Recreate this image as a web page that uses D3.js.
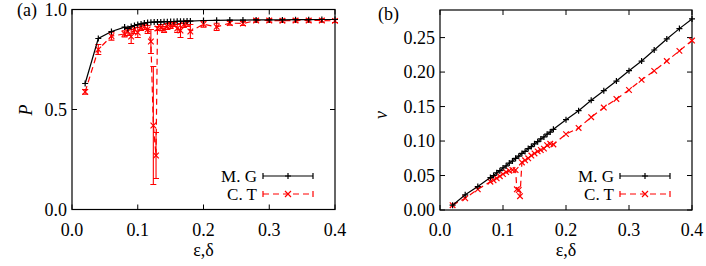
<!DOCTYPE html>
<html><head><meta charset="utf-8">
<script src="https://cdn.jsdelivr.net/npm/d3@7"></script>
<style>
body{margin:0;background:#fff;}
</style></head>
<body><svg id="c" width="706" height="266" font-family="'Liberation Serif', 'Times New Roman', Times, serif" font-size="18"></svg>
<script>
// ---- data ----
const blackX = [0.02,0.04,0.06,0.08,0.085,0.09,0.095,0.1,0.105,0.11,0.115,0.12,0.125,0.13,0.135,0.14,0.145,0.15,0.155,0.16,0.165,0.17,0.175,0.18,0.2,0.22,0.24,0.26,0.28,0.3,0.32,0.34,0.36,0.38,0.4];
const blackP = [0.63,0.855,0.89,0.912,0.905,0.915,0.92,0.925,0.928,0.932,0.935,0.936,0.937,0.938,0.938,0.939,0.939,0.94,0.94,0.941,0.941,0.941,0.942,0.942,0.945,0.946,0.947,0.947,0.948,0.948,0.948,0.949,0.949,0.95,0.95];
const blackV = [0.007,0.022,0.034,0.047,0.050,0.054,0.057,0.061,0.064,0.068,0.071,0.075,0.078,0.082,0.085,0.089,0.092,0.096,0.099,0.103,0.106,0.110,0.113,0.117,0.131,0.144,0.159,0.173,0.187,0.202,0.216,0.232,0.248,0.263,0.277];

const redPX = [0.02,0.04,0.06,0.08,0.085,0.09,0.095,0.1,0.105,0.11,0.115,0.12,0.1237,0.1278,0.13,0.135,0.14,0.145,0.15,0.155,0.16,0.165,0.17,0.175,0.18,0.2,0.22,0.24,0.26,0.28,0.3,0.32,0.34,0.36,0.38,0.4];
const redP = [0.588,0.800,0.867,0.878,0.89,0.865,0.9,0.885,0.91,0.915,0.9,0.84,0.42,0.27,0.905,0.91,0.9,0.915,0.92,0.925,0.905,0.895,0.925,0.93,0.89,0.927,0.913,0.932,0.93,0.945,0.945,0.944,0.945,0.945,0.945,0.943];
const redPErr = [0.012,0.025,0.02,0.015,0.02,0.035,0.02,0.025,0.015,0.015,0.02,0.06,0.295,0.115,0.01,0.015,0.015,0.015,0.015,0.01,0.02,0.035,0.015,0.015,0.035,0.015,0.018,0.01,0.01,0.008,0.008,0.008,0.008,0.008,0.008,0.008];

const redVX = [0.02,0.04,0.06,0.08,0.085,0.09,0.095,0.1,0.105,0.11,0.115,0.12,0.122,0.125,0.127,0.13,0.135,0.14,0.145,0.15,0.155,0.16,0.165,0.17,0.175,0.18,0.2,0.22,0.24,0.26,0.28,0.3,0.32,0.34,0.36,0.38,0.4];
const redV = [0.007,0.017,0.030,0.041,0.043,0.046,0.049,0.052,0.055,0.057,0.058,0.058,0.030,0.029,0.020,0.069,0.072,0.075,0.079,0.082,0.085,0.087,0.089,0.094,0.096,0.095,0.110,0.119,0.1345,0.1485,0.161,0.174,0.1887,0.2017,0.216,0.2307,0.2457];

const xTicks = [0,0.1,0.2,0.3,0.4];
const yTicksA = [0,0.5,1.0];
const yTicksB = [0,0.05,0.1,0.15,0.2,0.25];
const seriesNames = ["M. G","C. T"];

// ---- drawing ----
const svg = d3.select("#c");
const RED = "#ff0000";

function plusPath(x,y,s){return `M${x-s},${y}H${x+s}M${x},${y-s}V${y+s}`;}
function crossPath(x,y,s){return `M${x-s},${y-s}L${x+s},${y+s}M${x-s},${y+s}L${x+s},${y-s}`;}

function panel(o){
  const x = d3.scaleLinear().domain([0,0.4]).range([o.l,o.r]);
  const y = d3.scaleLinear().domain(o.yd).range([o.b,o.t]);
  const g = svg.append("g");
  const tl = 5;
  o.xt.forEach(v=>{
    g.append("line").attr("x1",x(v)).attr("x2",x(v)).attr("y1",o.b).attr("y2",o.b-tl).attr("stroke","#000");
    g.append("line").attr("x1",x(v)).attr("x2",x(v)).attr("y1",o.t).attr("y2",o.t+tl).attr("stroke","#000");
    g.append("text").attr("x",x(v)).attr("y",o.b+26).attr("text-anchor","middle").text(d3.format(".1f")(v));
  });
  o.yt.forEach(v=>{
    g.append("line").attr("x1",o.l).attr("x2",o.l+tl).attr("y1",y(v)).attr("y2",y(v)).attr("stroke","#000");
    g.append("line").attr("x1",o.r).attr("x2",o.r-tl).attr("y1",y(v)).attr("y2",y(v)).attr("stroke","#000");
    g.append("text").attr("x",o.l-5).attr("y",y(v)+6).attr("text-anchor","end").text(o.yf(v));
  });
  g.append("rect").attr("x",o.l).attr("y",o.t).attr("width",o.r-o.l).attr("height",o.b-o.t)
    .attr("fill","none").attr("stroke","#000").attr("stroke-width",1.2);

  const line = d3.line().x(d=>x(d[0])).y(d=>y(d[1]));
  const rd = o.rx.map((v,i)=>[v,o.ry[i],o.re?o.re[i]:0]);
  g.append("path").attr("d",line(rd)).attr("fill","none").attr("stroke",RED).attr("stroke-width",1.2).attr("stroke-dasharray","6,4");
  rd.forEach(d=>{
    if(d[2]>0){
      const cx=x(d[0]), y1=y(d[1]-d[2]), y2=y(d[1]+d[2]);
      g.append("path").attr("d",`M${cx},${y1}V${y2}M${cx-3},${y1}H${cx+3}M${cx-3},${y2}H${cx+3}`).attr("stroke",RED).attr("stroke-width",1.1).attr("fill","none");
    }
    g.append("path").attr("d",crossPath(x(d[0]),y(d[1]),2.8)).attr("stroke",RED).attr("stroke-width",1.2);
  });
  const bd = o.bx.map((v,i)=>[v,o.by[i]]);
  g.append("path").attr("d",line(bd)).attr("fill","none").attr("stroke","#000").attr("stroke-width",1.2);
  bd.forEach(d=>{
    g.append("path").attr("d",plusPath(x(d[0]),y(d[1]),3)).attr("stroke","#000").attr("stroke-width",1.2);
  });

  const lx1=o.lgx, lx2=o.lgx+50, lm=(lx1+lx2)/2;
  [[o.lgy1,"#000",null,plusPath],[o.lgy2,RED,"6,4",crossPath]].forEach((s,i)=>{
    const yy=s[0];
    g.append("text").attr("x",lx1-6).attr("y",yy+6).attr("text-anchor","end").attr("font-size",17).text(seriesNames[i]);
    g.append("line").attr("x1",lx1).attr("x2",lx2).attr("y1",yy).attr("y2",yy).attr("stroke",s[1]).attr("stroke-width",1.2).attr("stroke-dasharray",s[2]);
    g.append("path").attr("d",`M${lx1},${yy-3}V${yy+3}M${lx2},${yy-3}V${yy+3}`).attr("stroke",s[1]).attr("stroke-width",1.2);
    g.append("path").attr("d",s[3](lm,yy,3)).attr("stroke",s[1]).attr("stroke-width",1.2);
  });

  g.append("text").attr("x",o.tagx).attr("y",o.tagy).text(o.tag);
  g.append("text").attr("transform",`translate(${o.ylx},${o.yly}) rotate(-90)`).attr("text-anchor","middle")
    .attr("font-style","italic").text(o.yl);
  g.append("text").attr("x",(o.l+o.r)/2).attr("y",256).attr("text-anchor","middle").text("ε,δ");
}

panel({l:72,r:335,t:9.5,b:209.5,yd:[0,1],xt:xTicks,yt:yTicksA,yf:d3.format(".1f"),
  bx:blackX,by:blackP,rx:redPX,ry:redP,re:redPErr,
  lgx:263,lgy1:176,lgy2:194,tag:"(a)",tagx:17,tagy:16,yl:"P",ylx:32,yly:110});
panel({l:440,r:692,t:10,b:210,yd:[0,0.29],xt:xTicks,yt:yTicksB,yf:d3.format(".2f"),
  bx:blackX,by:blackV,rx:redVX,ry:redV,re:null,
  lgx:620,lgy1:176,lgy2:194,tag:"(b)",tagx:378,tagy:20,yl:"ν",ylx:387,yly:115});
</script></body></html>
